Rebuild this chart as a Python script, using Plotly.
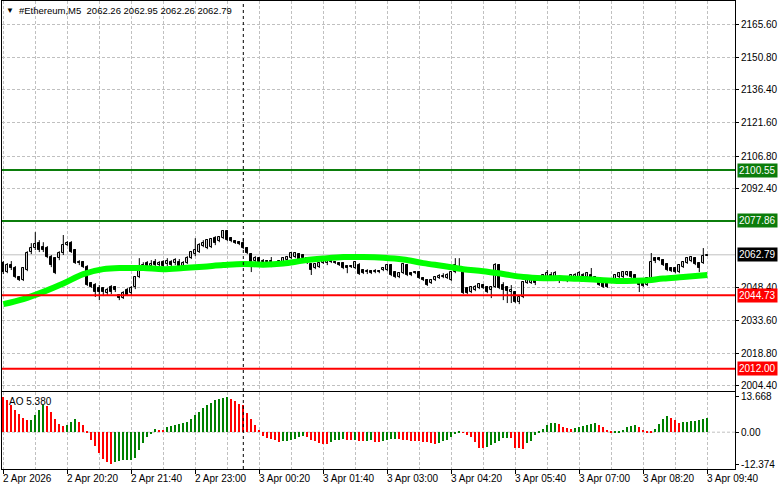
import pandas as pd
import plotly.graph_objects as go

# ---- data ----
start = "2026-04-02 19:00"
times = pd.date_range(start, periods=177, freq="5min")

opens = [2059.1, 2055.1, 2058.2, 2056.9, 2052.9, 2051.5, 2056.0, 2064.0, 2065.8, 2068.0,
         2066.2, 2065.8, 2061.8, 2061.3, 2061.3, 2063.6, 2067.1, 2068.0, 2064.9, 2059.5,
         2059.5, 2057.3, 2050.2, 2049.3, 2048.0, 2048.0, 2045.7, 2048.4, 2048.4, 2044.9,
         2043.5, 2047.1, 2045.7, 2048.4, 2052.9, 2056.9, 2059.1, 2057.8, 2059.5, 2058.2,
         2059.5, 2058.7, 2059.5, 2059.1, 2059.5, 2057.8, 2059.1, 2061.3, 2063.1, 2064.0,
         2066.7, 2065.8, 2066.2, 2070.2, 2068.9, 2070.2, 2073.4, 2070.2, 2068.9, 2068.4,
         2068.0, 2065.8, 2063.1, 2060.0, 2061.3, 2060.0, 2060.0, 2060.0, 2059.1, 2059.1,
         2059.5, 2060.4, 2061.3, 2061.8, 2063.1, 2062.7, 2061.3, 2058.7, 2056.9, 2057.3,
         2059.1, 2059.1, 2060.0, 2059.5, 2059.1, 2059.1, 2057.8, 2057.3, 2056.9, 2058.2,
         2056.0, 2055.1, 2055.5, 2055.1, 2055.5, 2056.0, 2056.0, 2058.2, 2055.1, 2052.9,
         2054.6, 2058.2, 2054.6, 2055.1, 2055.1, 2052.4, 2051.5, 2050.2, 2051.5, 2052.4,
         2052.9, 2052.4, 2051.5, 2055.1, 2057.3, 2055.1, 2048.0, 2046.2, 2047.1, 2048.0,
         2049.3, 2048.4, 2047.1, 2048.4, 2058.2, 2049.3, 2048.4, 2046.2, 2046.2, 2041.7,
         2044.0, 2050.2, 2050.2, 2051.5, 2052.0, 2052.4, 2052.4, 2053.8, 2052.4, 2052.9,
         2052.4, 2051.5, 2052.4, 2052.9, 2052.9, 2053.8, 2052.9, 2053.8, 2052.9, 2050.6,
         2050.2, 2050.2, 2050.6, 2051.5, 2052.9, 2052.9, 2053.8, 2055.1, 2053.8, 2050.6,
         2050.2, 2049.3, 2052.4, 2061.3, 2061.3, 2060.4, 2058.7, 2056.9, 2056.9, 2055.1,
         2057.3, 2059.1, 2060.0, 2061.3, 2059.1, 2059.1, 2062.26]
highs = [2060.0, 2059.1, 2060.0, 2057.8, 2053.3, 2057.3, 2064.4, 2068.0, 2072.9, 2069.3,
         2068.4, 2066.7, 2062.7, 2061.8, 2064.4, 2071.6, 2068.9, 2068.9, 2065.3, 2060.4,
         2060.0, 2058.2, 2050.6, 2050.2, 2049.3, 2048.4, 2048.0, 2049.3, 2048.9, 2045.3,
         2046.6, 2048.0, 2048.9, 2053.3, 2061.3, 2059.5, 2060.0, 2060.4, 2060.9, 2060.0,
         2060.4, 2061.3, 2060.4, 2061.3, 2060.9, 2060.0, 2062.2, 2064.4, 2070.2, 2068.0,
         2069.3, 2069.8, 2070.2, 2071.1, 2071.1, 2073.8, 2073.8, 2070.7, 2069.3, 2068.9,
         2070.2, 2066.2, 2063.6, 2062.2, 2061.8, 2060.9, 2060.4, 2061.8, 2059.5, 2060.4,
         2061.8, 2062.2, 2064.0, 2064.0, 2063.6, 2063.1, 2061.8, 2059.1, 2059.1, 2059.5,
         2060.9, 2061.3, 2060.4, 2060.0, 2059.5, 2059.5, 2058.2, 2058.2, 2060.0, 2059.1,
         2056.4, 2056.4, 2056.0, 2056.4, 2056.0, 2057.3, 2058.7, 2058.7, 2055.5, 2055.1,
         2059.1, 2058.7, 2055.1, 2055.5, 2055.5, 2052.9, 2052.0, 2052.0, 2053.3, 2054.2,
         2054.6, 2054.6, 2055.5, 2061.3, 2061.3, 2055.5, 2048.4, 2048.9, 2049.3, 2050.2,
         2049.8, 2048.9, 2048.9, 2059.1, 2058.7, 2050.6, 2048.9, 2049.3, 2046.6, 2044.4,
         2051.1, 2052.4, 2052.0, 2052.0, 2053.3, 2054.2, 2056.0, 2055.1, 2055.5, 2053.8,
         2052.9, 2052.4, 2054.2, 2054.6, 2055.5, 2054.6, 2055.1, 2056.9, 2053.3, 2051.1,
         2050.6, 2050.6, 2052.0, 2054.2, 2055.1, 2055.5, 2055.5, 2055.5, 2054.2, 2051.1,
         2050.6, 2052.9, 2063.6, 2061.8, 2061.8, 2060.9, 2059.1, 2057.3, 2057.3, 2058.7,
         2060.0, 2061.8, 2062.2, 2061.8, 2059.5, 2065.8, 2062.95]
lows = [2054.2, 2054.6, 2056.0, 2052.4, 2051.1, 2051.1, 2055.5, 2063.1, 2064.9, 2064.0,
        2064.0, 2061.3, 2057.3, 2054.2, 2060.4, 2062.7, 2066.7, 2063.6, 2058.7, 2058.2,
        2056.9, 2048.9, 2048.0, 2044.0, 2042.6, 2044.4, 2044.9, 2045.3, 2046.2, 2042.6,
        2043.1, 2044.4, 2044.9, 2047.5, 2052.4, 2056.0, 2056.9, 2056.9, 2057.3, 2057.3,
        2056.9, 2057.8, 2056.9, 2058.2, 2056.9, 2057.3, 2058.7, 2060.9, 2062.2, 2063.6,
        2066.2, 2065.3, 2065.8, 2067.1, 2068.4, 2069.8, 2068.9, 2068.4, 2067.6, 2067.1,
        2065.3, 2063.1, 2055.1, 2059.5, 2059.1, 2058.7, 2059.1, 2057.3, 2058.2, 2058.7,
        2059.1, 2060.0, 2060.9, 2061.3, 2060.0, 2060.9, 2058.7, 2053.8, 2056.4, 2056.9,
        2058.7, 2058.2, 2059.1, 2058.7, 2057.8, 2056.4, 2054.6, 2056.9, 2056.4, 2053.8,
        2054.2, 2054.2, 2054.2, 2054.6, 2054.6, 2055.5, 2055.5, 2053.3, 2052.4, 2052.4,
        2054.2, 2053.3, 2053.3, 2054.2, 2052.0, 2051.1, 2048.9, 2049.8, 2051.1, 2052.0,
        2052.4, 2052.0, 2051.1, 2054.6, 2055.5, 2045.3, 2045.3, 2045.7, 2046.6, 2047.5,
        2047.5, 2045.7, 2043.5, 2048.0, 2047.5, 2042.6, 2041.3, 2041.3, 2041.3, 2040.8,
        2043.5, 2049.8, 2049.8, 2049.3, 2051.1, 2052.0, 2052.0, 2052.4, 2052.0, 2050.2,
        2051.1, 2050.6, 2051.5, 2052.4, 2052.4, 2052.4, 2052.4, 2052.0, 2051.1, 2048.9,
        2048.0, 2048.0, 2050.2, 2051.1, 2052.4, 2052.4, 2053.3, 2052.4, 2051.1, 2046.2,
        2048.4, 2048.9, 2052.0, 2059.1, 2060.0, 2057.8, 2055.5, 2055.1, 2054.6, 2054.6,
        2056.9, 2058.7, 2059.5, 2058.2, 2055.1, 2058.7, 2062.26]
closes = [2055.1, 2058.2, 2056.9, 2052.9, 2051.5, 2056.9, 2063.6, 2065.8, 2067.6, 2064.9,
          2064.9, 2061.8, 2058.2, 2054.6, 2063.6, 2067.1, 2068.0, 2064.0, 2059.1, 2059.1,
          2057.3, 2049.3, 2048.4, 2046.2, 2046.2, 2046.2, 2047.1, 2046.2, 2047.1, 2043.5,
          2045.7, 2044.9, 2048.0, 2052.9, 2056.9, 2058.2, 2057.8, 2058.7, 2058.2, 2059.1,
          2057.8, 2060.0, 2058.2, 2060.4, 2057.8, 2059.1, 2061.3, 2064.0, 2064.9, 2067.1,
          2068.0, 2069.3, 2069.8, 2068.0, 2070.7, 2073.4, 2069.3, 2068.9, 2068.0, 2067.6,
          2065.8, 2063.6, 2059.5, 2061.3, 2059.5, 2059.5, 2059.5, 2059.5, 2058.7, 2060.0,
          2061.3, 2061.8, 2063.6, 2063.6, 2060.4, 2061.3, 2059.5, 2056.0, 2058.7, 2059.1,
          2060.4, 2060.4, 2059.5, 2059.1, 2058.2, 2056.9, 2056.9, 2057.8, 2059.5, 2054.2,
          2054.6, 2055.5, 2054.6, 2055.5, 2055.1, 2056.9, 2058.2, 2053.8, 2052.9, 2054.6,
          2058.7, 2053.8, 2053.8, 2054.6, 2052.4, 2051.5, 2049.3, 2051.5, 2052.9, 2053.3,
          2053.3, 2053.8, 2055.1, 2058.2, 2056.0, 2045.7, 2045.7, 2048.4, 2048.4, 2049.8,
          2048.0, 2046.2, 2048.4, 2058.2, 2048.0, 2047.1, 2046.6, 2047.1, 2041.7, 2044.0,
          2050.6, 2051.5, 2051.5, 2050.2, 2052.9, 2053.8, 2054.6, 2052.9, 2054.6, 2051.5,
          2051.5, 2052.0, 2053.8, 2053.8, 2054.6, 2053.3, 2054.6, 2052.4, 2051.5, 2049.3,
          2048.4, 2048.4, 2051.5, 2053.8, 2054.6, 2055.1, 2055.1, 2052.9, 2051.5, 2049.3,
          2048.9, 2052.4, 2059.5, 2060.0, 2060.4, 2058.2, 2056.0, 2055.5, 2055.1, 2058.2,
          2059.5, 2061.3, 2061.8, 2058.7, 2056.9, 2062.2, 2062.79]

# moving average, sampled every few bars
ma_bars = [0, 5, 10, 15, 20, 25, 30, 35, 40, 45, 50, 55, 60, 65, 70, 75, 80, 85, 90,
           95, 100, 105, 110, 115, 120, 125, 130, 135, 140, 145, 150, 155, 160, 165,
           170, 176]
ma_vals = [2040.8, 2043.1, 2046.3, 2050.0, 2054.2, 2056.4, 2056.9, 2056.9, 2056.4,
           2056.9, 2057.5, 2058.2, 2058.7, 2058.4, 2058.9, 2060.2, 2061.1, 2061.8,
           2061.8, 2061.5, 2060.7, 2059.1, 2057.8, 2056.4, 2055.5, 2054.2, 2052.9,
           2052.4, 2052.4, 2052.0, 2051.5, 2051.1, 2051.3, 2052.2, 2052.9, 2053.8]

ao = [13.668, 12.6, 10.5, 8.6, 7.0, 5.4, 4.7, 4.8, 6.6, 8.6,
      10.5, 10.1, 7.9, 5.0, 3.2, 2.3, 2.6, 4.0, 5.0, 4.1,
      2.8, 0.1, -3.2, -5.5, -8.0, -10.6, -11.6, -12.374, -11.5, -11.2,
      -11.0, -10.9, -10.8, -10.2, -6.8, -4.2, -2.0, -0.4, 1.1, 1.0,
      0.9, 1.9, 2.4, 2.8, 3.2, 3.7, 4.1, 5.0, 6.6, 7.9,
      9.2, 10.5, 11.4, 12.4, 13.0, 13.4, 13.55, 13.0, 12.1, 11.1,
      10.5, 7.5, 5.0, 2.8, 0.9, -1.3, -2.3, -2.7, -3.2, -3.8,
      -3.6, -3.5, -3.2, -2.6, -1.7, -1.6, -1.7, -2.9, -3.6, -4.2,
      -4.5, -4.6, -3.8, -3.2, -2.9, -2.8, -3.0, -3.2, -3.1, -3.3,
      -3.5, -3.3, -3.2, -3.8, -4.0, -3.4, -3.0, -2.7, -2.5, -2.8,
      -3.0, -3.2, -3.3, -3.5, -3.6, -3.7, -3.9, -4.2, -4.4, -4.2,
      -3.6, -2.9, -1.7, -0.6, 0.3, -0.3, -1.0, -1.7, -4.0, -6.0,
      -6.2, -5.6, -4.9, -4.2, -3.3, -2.3, -2.2, -2.4, -6.0, -6.2,
      -6.4, -4.2, -3.3, -1.0, 0.1, 1.1, 2.8, 3.4, 3.5, 3.2,
      2.2, 1.5, 1.4, 1.5, 1.9, 2.4, 2.8, 3.2, 3.5, 2.9,
      1.9, 0.9, 0.1, 0.2, 0.3, 0.9, 1.9, 2.4, 2.7, 1.9,
      0.9, 0.4, 0.2, 1.1, 3.2, 5.0, 6.3, 5.6, 4.7, 3.4,
      3.8, 4.0, 4.3, 4.5, 4.8, 5.0, 5.38]

price_ticks = [2165.60, 2150.80, 2136.40, 2121.60, 2106.80, 2092.40, 2048.40, 2033.60, 2018.80, 2004.40]
levels = [(2100.55, "#0b7d0b"), (2077.86, "#0b7d0b"), (2044.73, "#ff0000"), (2012.00, "#ff0000")]
last_price = 2062.79

time_ticks = ["2026-04-02 19:00", "2026-04-02 20:20", "2026-04-02 21:40", "2026-04-02 23:00",
              "2026-04-03 00:20", "2026-04-03 01:40", "2026-04-03 03:00", "2026-04-03 04:20",
              "2026-04-03 05:40", "2026-04-03 07:00", "2026-04-03 08:20", "2026-04-03 09:40"]
time_labels = ["2 Apr 2026", "2 Apr 20:20", "2 Apr 21:40", "2 Apr 23:00", "3 Apr 00:20",
               "3 Apr 01:40", "3 Apr 03:00", "3 Apr 04:20", "3 Apr 05:40", "3 Apr 07:00",
               "3 Apr 08:20", "3 Apr 09:40"]
day_break = "2026-04-03 00:00"

FONT = "Liberation Sans"
GRID = "#c0c0c0"
DASH = "3px,2px"

ao_colors = ["#ff0000"] + ["#008000" if ao[i] > ao[i - 1] else "#ff0000" for i in range(1, len(ao))]

# candles: wicks as line segments, bodies as floating bars
wick_x, wick_y = [], []
for t, h, l in zip(times, highs, lows):
    wick_x += [t, t, None]
    wick_y += [h, l, None]

up = [i for i in range(len(times)) if closes[i] >= opens[i]]
dn = [i for i in range(len(times)) if closes[i] < opens[i]]

fig = go.Figure()
fig.add_trace(go.Scatter(x=wick_x, y=wick_y, mode="lines", line=dict(color="black", width=1),
                         hoverinfo="skip", xaxis="x", yaxis="y"))
for idx, fill in ((up, "white"), (dn, "black")):
    fig.add_trace(go.Bar(
        x=[times[i] for i in idx],
        base=[min(opens[i], closes[i]) for i in idx],
        y=[max(abs(closes[i] - opens[i]), 0.2) for i in idx],
        width=150000, marker=dict(color=fill, line=dict(color="black", width=1)),
        hoverinfo="skip", xaxis="x", yaxis="y"))
fig.add_trace(go.Scatter(
    x=[times[i] for i in ma_bars], y=ma_vals, mode="lines",
    line=dict(color="#00ff00", width=6, shape="spline"), xaxis="x", yaxis="y"))
fig.add_trace(go.Bar(
    x=times, y=ao, marker=dict(color=ao_colors, line_width=0),
    width=60000, xaxis="x2", yaxis="y2"))

x_range = ["2026-04-02 18:58:22.5", "2026-04-03 10:14:37.5"]
xcommon = dict(type="date", range=x_range, showticklabels=False,
               tick0=start, dtick=80 * 60 * 1000, showgrid=True, gridcolor=GRID, griddash=DASH,
               minor=dict(tick0=start, dtick=40 * 60 * 1000, showgrid=True, gridcolor=GRID, griddash=DASH),
               showline=True, mirror=True, linecolor="black", linewidth=1, zeroline=False)

fig.update_layout(
    width=781, height=489,
    margin=dict(l=2, r=46, t=1, b=20),
    paper_bgcolor="white", plot_bgcolor="white",
    showlegend=False, barmode="overlay", bargap=0,
    font=dict(family=FONT, size=10, color="black"),
    xaxis=dict(xcommon, anchor="y", domain=[0, 1], ticks=""),
    xaxis2=dict(xcommon, anchor="y2", domain=[0, 1], matches="x", ticks="outside", ticklen=4,
                tickcolor="black"),
    yaxis=dict(domain=[0.1667, 1], side="right", range=[2002.13, 2175.85],
               tickvals=price_ticks, ticktext=[f"{v:.2f}" for v in price_ticks],
               ticks="outside", ticklen=3, tickcolor="black",
               showgrid=True, gridcolor=GRID, griddash=DASH, zeroline=False,
               showline=True, mirror=True, linecolor="black", linewidth=1, anchor="x"),
    yaxis2=dict(domain=[0, 0.1645], side="right", range=[-14.3, 15.6],
                tickvals=[13.668, 0, -12.374], ticktext=["13.668", "0.00", "-12.374"],
                ticks="outside", ticklen=3, tickcolor="black", showgrid=False, zeroline=False,
                showline=True, mirror=True, linecolor="black", linewidth=1, anchor="x2"),
)

shapes = [dict(type="line", xref="x2 domain", yref="y2", x0=0, x1=1, y0=0, y1=0,
               line=dict(color=GRID, width=1, dash=DASH), layer="below"),
          dict(type="line", xref="x domain", yref="y", x0=0, x1=1, y0=last_price, y1=last_price,
               line=dict(color=GRID, width=1), layer="below"),
          dict(type="line", xref="x", yref="paper", x0=day_break, x1=day_break, y0=0, y1=1,
               line=dict(color="black", width=1, dash="3px,3px"))]
for lvl, col in levels:
    shapes.append(dict(type="line", xref="x domain", yref="y", x0=0, x1=1, y0=lvl, y1=lvl,
                       line=dict(color=col, width=2)))
fig.update_layout(shapes=shapes)

annotations = []
for lvl, col in levels + [(last_price, "black")]:
    annotations.append(dict(xref="paper", yref="y", x=1, y=lvl, xanchor="left", xshift=2,
                            text=f"{lvl:.2f}", showarrow=False, bgcolor=col, borderpad=1,
                            font=dict(color="white", size=10, family=FONT)))
for t, lab in zip(time_ticks, time_labels):
    annotations.append(dict(xref="x2", yref="paper", x=t, y=0, xanchor="left", yanchor="top",
                            xshift=-2, yshift=-2, text=lab, showarrow=False,
                            font=dict(size=10, family=FONT, color="black")))
annotations.append(dict(xref="paper", yref="paper", x=0, y=1, xanchor="left", yanchor="top",
                        xshift=2, yshift=-3, text="\u25bc", showarrow=False,
                        font=dict(size=8, color="black")))
annotations.append(dict(xref="paper", yref="paper", x=0, y=1, xanchor="left", yanchor="top",
                        xshift=15, yshift=-2,
                        text="#Ethereum,M5  2062.26 2062.95 2062.26 2062.79", showarrow=False,
                        font=dict(size=9.5, family=FONT, color="black")))
annotations.append(dict(xref="paper", yref="y2 domain", x=0, y=1, xanchor="left", yanchor="top",
                        xshift=5, yshift=-2, text="AO 5.380", showarrow=False,
                        font=dict(size=10, family=FONT, color="black")))
fig.update_layout(annotations=annotations)

fig.write_html("out.html", config={"displayModeBar": False},
               post_script="document.body.style.margin='0';")
